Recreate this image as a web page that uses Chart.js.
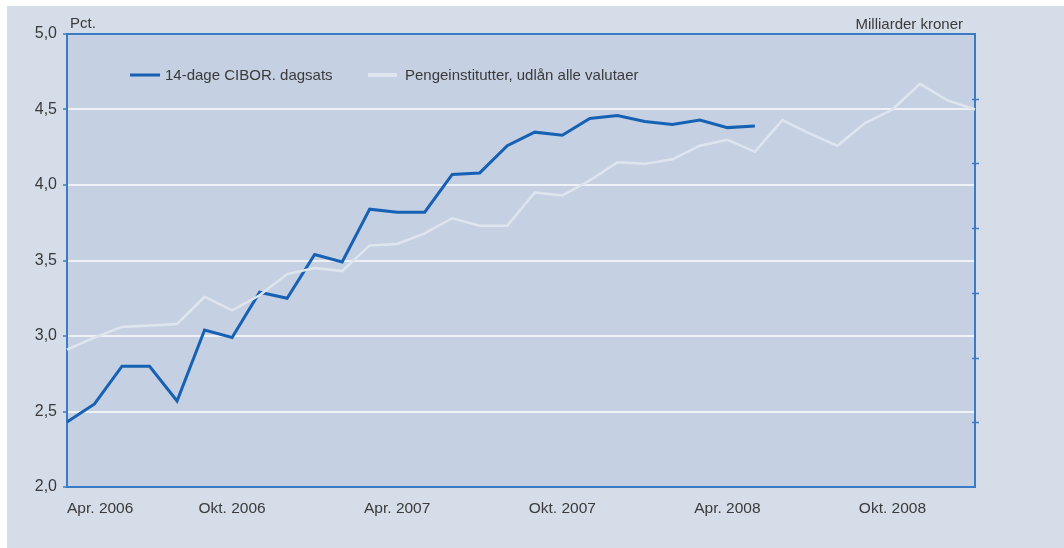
<!DOCTYPE html>
<html>
<head>
<meta charset="utf-8">
<script src="https://cdn.jsdelivr.net/npm/chart.js@4/dist/chart.umd.min.js"></script>
<style>
html,body{margin:0;padding:0;background:#ffffff;}
canvas{display:block;}
</style>
</head>
<body>
<canvas id="c" width="1064" height="548"></canvas>
<script>
const months = [
  "Apr. 2006","Maj 2006","Jun. 2006","Jul. 2006","Aug. 2006","Sep. 2006",
  "Okt. 2006","Nov. 2006","Dec. 2006","Jan. 2007","Feb. 2007","Mar. 2007",
  "Apr. 2007","Maj 2007","Jun. 2007","Jul. 2007","Aug. 2007","Sep. 2007",
  "Okt. 2007","Nov. 2007","Dec. 2007","Jan. 2008","Feb. 2008","Mar. 2008",
  "Apr. 2008","Maj 2008","Jun. 2008","Jul. 2008","Aug. 2008","Sep. 2008",
  "Okt. 2008","Nov. 2008","Dec. 2008","Jan. 2009"
];
const shownTickLabels = ["Apr. 2006","Okt. 2006","Apr. 2007","Okt. 2007","Apr. 2008","Okt. 2008"];
const cibor = [2.43,2.55,2.80,2.80,2.57,3.04,2.99,3.29,3.25,3.54,3.49,3.84,3.82,3.82,4.07,4.08,4.26,4.35,4.33,4.44,4.46,4.42,4.40,4.43,4.38,4.39];
const udlaan = [2.91,2.99,3.06,3.07,3.08,3.26,3.17,3.27,3.41,3.45,3.43,3.60,3.61,3.68,3.78,3.73,3.73,3.95,3.93,4.03,4.15,4.14,4.17,4.26,4.30,4.22,4.43,4.34,4.26,4.41,4.50,4.67,4.56,4.50];
const seriesNames = ["14-dage CIBOR. dagsats","Pengeinstitutter, udlån alle valutaer"];
const leftUnit = "Pct.";
const rightUnit = "Milliarder kroner";

const FAMILY = '"Liberation Sans", Arial, sans-serif';
const FONT = '15px ' + FAMILY;
const TEXT = '#3a3a3a';
const AXIS = '#3b7bc6';
const BLUE = '#1761b5';
const GRAY = '#dfe5ee';

const deco = {
  id: 'deco',
  beforeDraw(chart) {
    const c = chart.ctx, a = chart.chartArea;
    c.save();
    c.fillStyle = '#ffffff';
    c.fillRect(0, 0, chart.width, chart.height);
    c.fillStyle = '#d5dde8';
    c.fillRect(7, 6, chart.width - 7, chart.height - 6);
    c.fillStyle = '#c5d0e2';
    c.fillRect(a.left, a.top, a.right - a.left, a.bottom - a.top);
    c.restore();
  },
  afterDraw(chart) {
    const c = chart.ctx, a = chart.chartArea;
    const x = chart.scales.x, y1 = chart.scales.y1;
    c.save();
    // top border
    c.strokeStyle = AXIS; c.lineWidth = 2;
    c.beginPath(); c.moveTo(a.left, a.top); c.lineTo(a.right + 1, a.top); c.stroke();
    // right axis tick marks
    c.lineWidth = 1.5;
    for (let v = 1; v < 7; v++) {
      const py = Math.round(y1.getPixelForValue(v)) + 0.5;
      c.beginPath(); c.moveTo(a.right - 3, py); c.lineTo(a.right + 4, py); c.stroke();
    }
    // x labels
    c.font = '15.5px ' + FAMILY; c.fillStyle = TEXT; c.textBaseline = 'middle';
    months.forEach((m, i) => {
      if (!shownTickLabels.includes(m)) return;
      const px = x.getPixelForValue(i);
      c.textAlign = i === 0 ? 'left' : 'center';
      c.fillText(m, px, 509);
    });
    // unit labels
    c.font = FONT;
    c.textBaseline = 'alphabetic';
    c.textAlign = 'left';
    c.fillText(leftUnit, 70, 28);
    c.textAlign = 'right';
    c.fillText(rightUnit, 963, 29);
    // legend
    const ly = 75;
    c.lineWidth = 3; c.strokeStyle = BLUE;
    c.beginPath(); c.moveTo(130, ly); c.lineTo(160, ly); c.stroke();
    c.lineWidth = 4; c.strokeStyle = GRAY;
    c.beginPath(); c.moveTo(368, ly); c.lineTo(397, ly); c.stroke();
    c.textAlign = 'left'; c.textBaseline = 'middle'; c.fillStyle = TEXT;
    c.fillText(seriesNames[0], 165, ly + 1);
    c.fillText(seriesNames[1], 405, ly + 1);
    c.restore();
  }
};

new Chart(document.getElementById('c'), {
  type: 'line',
  data: {
    labels: months,
    datasets: [
      { label: seriesNames[0], data: cibor, borderColor: BLUE, borderWidth: 3, pointRadius: 0, tension: 0, order: 1, yAxisID: 'y' },
      { label: seriesNames[1], data: udlaan, borderColor: GRAY, borderWidth: 2.5, pointRadius: 0, tension: 0, order: 0, yAxisID: 'y' }
    ]
  },
  options: {
    responsive: false,
    animation: false,
    devicePixelRatio: 1,
    layout: { padding: { top: 34, left: 0, right: 0, bottom: 0 } },
    plugins: { legend: { display: false }, tooltip: { enabled: false } },
    scales: {
      x: {
        type: 'category',
        offset: false,
        grid: { display: false, drawTicks: false },
        border: { display: true, color: AXIS, width: 2 },
        ticks: { display: false },
        afterFit(s) { s.height = 61; }
      },
      y: {
        position: 'left',
        min: 2, max: 5,
        ticks: {
          stepSize: 0.5,
          color: TEXT,
          font: { family: FAMILY, size: 16 },
          padding: 6,
          callback: v => v.toFixed(1).replace('.', ',')
        },
        grid: {
          color: ctx => (ctx.tick && (ctx.tick.value === 2 || ctx.tick.value === 5)) ? 'rgba(0,0,0,0)' : '#eef1f6',
          lineWidth: 2,
          tickColor: AXIS,
          tickLength: 4,
          tickWidth: 1.5
        },
        border: { display: true, color: AXIS, width: 2 },
        afterFit(s) { s.width = 67; }
      },
      y1: {
        position: 'right',
        min: 0, max: 7,
        ticks: { display: false, stepSize: 1 },
        grid: { display: false, drawOnChartArea: false, drawTicks: false },
        border: { display: true, color: AXIS, width: 2 },
        afterFit(s) { s.width = 89; }
      }
    }
  },
  plugins: [deco]
});
</script>
</body>
</html>
